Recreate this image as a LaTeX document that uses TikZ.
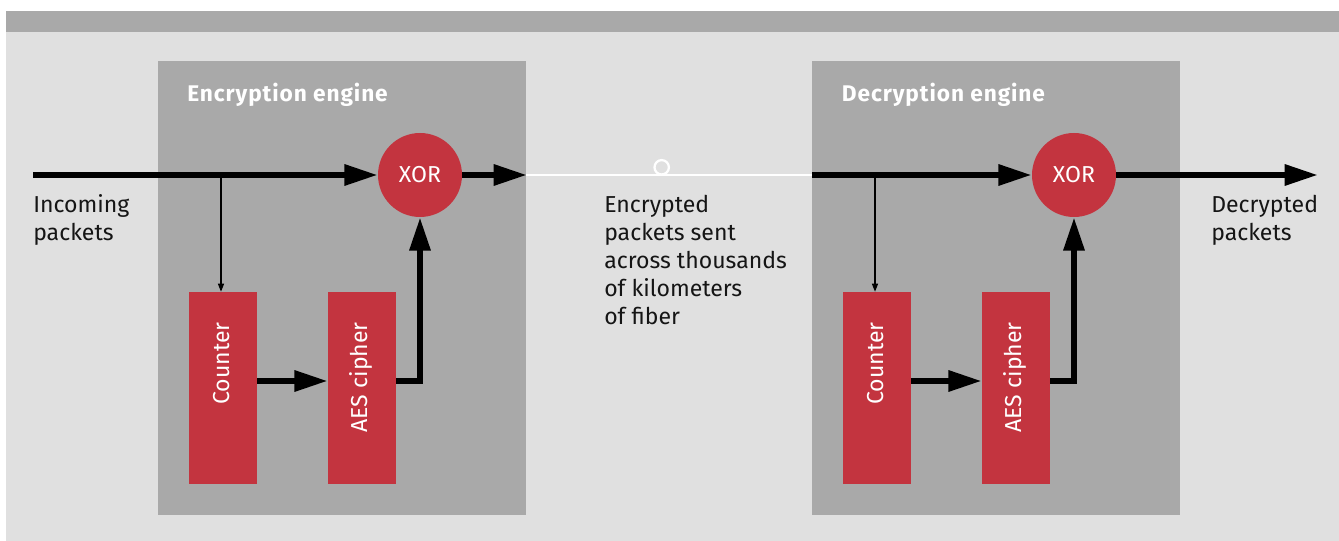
\documentclass[tikz,border=0pt]{standalone}
\usepackage{fontspec}
\setmainfont{Fira Sans}
\usetikzlibrary{arrows.meta}

\definecolor{panel}{HTML}{E0E0E0}
\definecolor{enginegray}{HTML}{A9A9A9}
\definecolor{block}{HTML}{C3343F}
\definecolor{ink}{HTML}{151515}

\tikzset{
  % multi-line captions sit on the baseline of their last line
  bodytext/.style={font=\fontsize{17.3}{21}\selectfont, text=ink, align=left,
    inner sep=0pt, anchor=base west},
  enginebox/.style={fill=enginegray, draw=none, inner sep=0pt,
    minimum width=276pt, minimum height=340.5pt},
  enginetitle/.style={font=\bfseries\fontsize{17}{20}\selectfont\addfontfeature{LetterSpace=4},
    text=white, inner sep=0pt, anchor=base west},
  unitbox/.style={fill=block, draw=none, inner sep=0pt,
    minimum width=51pt, minimum height=144pt},
  unitlabel/.style={font=\fontsize{17.3}{21}\selectfont, text=white, rotate=90,
    anchor=base east, inner sep=0pt},
  xorgate/.style={circle, fill=block, draw=none, minimum size=63pt, inner sep=0pt,
    text=white, font=\fontsize{17.3}{21}\selectfont},
  bus/.style={draw=black, line width=4.6pt, -{Triangle[length=25pt, width=15pt]}},
  tapline/.style={draw=black, line width=1pt, -{Triangle[length=6pt, width=4.5pt]}},
  fiber/.style={draw=white, line width=2pt},
  relay/.style={circle, draw=white, line width=1.7pt, minimum size=10.8pt, inner sep=0pt},
}

\begin{document}
\begin{tikzpicture}[x=0.75pt, y=-0.75pt]
  % page and panel
  \fill[white] (0,0) rectangle (1339,541);
  \useasboundingbox (0,0) rectangle (1339,541);
  \fill[panel] (6,11) rectangle (1339,541);
  \fill[enginegray] (6,11) rectangle (1339,32);

  % engines
  \node[enginebox] (enc-box) at (342,288) {};
  \node[enginebox] (dec-box) at (996,288) {};
  \node[enginetitle] (enc-title) at (187,102) {Encryption engine};
  \node[enginetitle] (dec-title) at (841.7,102) {Decryption engine};

  % encryption parts
  \node[xorgate] (enc-xor) at (420,175) {XOR};
  \node[unitbox] (enc-counter) at (223,388) {};
  \node[unitbox] (enc-aes) at (362,388) {};
  \node[unitlabel] (enc-counter-text) at (229.3,322) {Counter};
  \node[unitlabel] (enc-aes-text) at (367.5,322) {AES cipher};

  % decryption parts
  \node[xorgate] (dec-xor) at (1074,175) {XOR};
  \node[unitbox] (dec-counter) at (877,388) {};
  \node[unitbox] (dec-aes) at (1016,388) {};
  \node[unitlabel] (dec-counter-text) at (883.3,322) {Counter};
  \node[unitlabel] (dec-aes-text) at (1021.5,322) {AES cipher};

  % line ends and taps
  \coordinate (in) at (33,175);
  \coordinate (enc-out) at (527,175);
  \coordinate (enc-tap) at (221,175);
  \coordinate (dec-in) at (812,175);
  \coordinate (dec-tap) at (875,175);
  \coordinate (out) at (1318,175);

  % fiber link with relay
  \draw[fiber] (enc-box.east |- enc-out) -- (dec-in);
  \node[relay] (fiber-relay) at (661.7,167.3) {};

  % encryption data path
  \draw[bus] (in) -- (enc-xor);
  \draw[bus] (enc-xor) -- (enc-out);
  \draw[tapline] (enc-tap) -- (enc-tap |- enc-counter.north);
  \draw[bus] ([yshift=5.25pt]enc-counter.east) -- ([yshift=5.25pt]enc-aes.west);
  \draw[bus] ([yshift=5.25pt]enc-aes.east) -| (enc-xor.south);

  % decryption data path
  \draw[bus] (dec-in) -- (dec-xor);
  \draw[bus] (dec-xor) -- (out);
  \draw[tapline] (dec-tap) -- (dec-tap |- dec-counter.north);
  \draw[bus] ([yshift=5.25pt]dec-counter.east) -- ([yshift=5.25pt]dec-aes.west);
  \draw[bus] ([yshift=5.25pt]dec-aes.east) -| (dec-xor.south);

  % captions
  \node[bodytext] (incoming) at (33,241) {Incoming\\packets};
  \node[bodytext] (fiber-text) at (604,324.7) {Encrypted\\packets sent\\across thousands\\of kilometers\\of fiber};
  \node[bodytext] (decrypted) at (1211,240.7) {Decrypted\\packets};
\end{tikzpicture}
\end{document}
